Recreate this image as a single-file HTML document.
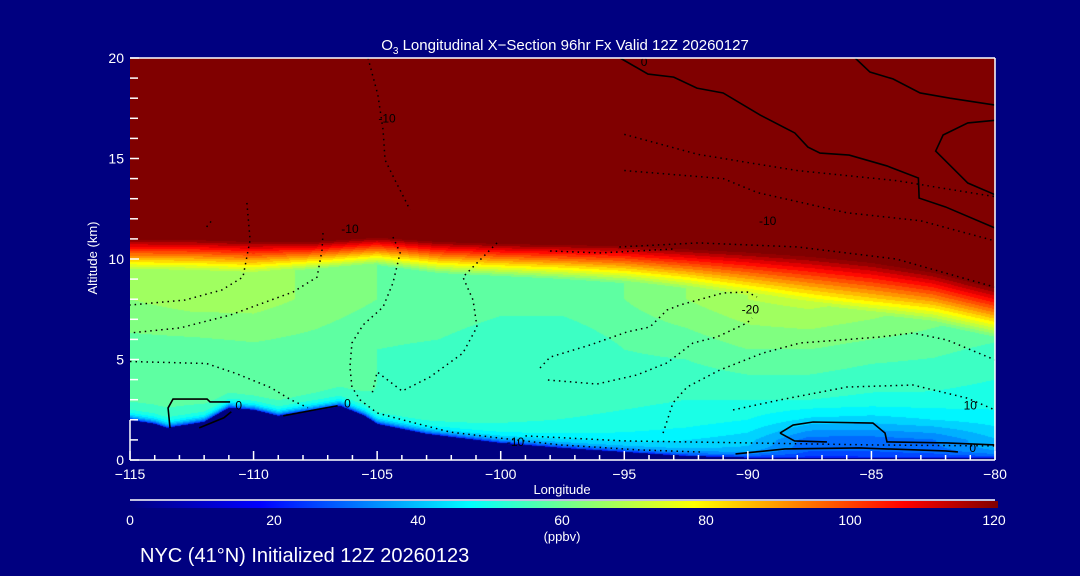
<!DOCTYPE html>
<html><head><meta charset="utf-8"><style>
html,body{margin:0;padding:0;background:#000080;}
#wrap{position:relative;width:1080px;height:576px;overflow:hidden;background:#000080;font-family:"Liberation Sans",sans-serif;color:#fff;}
canvas{position:absolute;left:130px;top:58px;}
svg{position:absolute;left:0;top:0;}
</style></head><body>
<div id="wrap">
<canvas id="field" width="865" height="402"></canvas>
<svg id="ov" width="1080" height="576"></svg>
</div>
<script>
// ---- data ----
const colLons = [-115,-112.5,-110,-107.5,-105,-102.5,-100,-97.5,-95,-92.5,-90,-87.5,-85,-82.5,-80];
const val1km = [55,55,55,55,55,52,50,48,47,45,42,30,30,32,40];
const val2km = [56,56,57,56,55,54,53,52,51,50,48,43,42,44,46];
const val3km = [57,57,58,57,56,55,54,54,53,52,52,52,51,51,50];
const val55km = [58,58,59,58,56,55,52,52,56,57,60,60,58,57,55];
const val8km = [64,66,66,63,60,60,58,58,60,64,68,70,68,64,62];
const tropTop = [11.0,11.0,10.9,10.9,11.1,10.9,10.8,10.75,10.7,10.55,10.4,10.2,9.9,9.4,8.6];
const tropWidth = [1.6,1.6,1.6,1.4,1.4,1.6,1.7,1.8,1.9,2.0,2.2,2.4,2.6,2.6,2.6];
const terrLons = [-115,-114,-113.5,-112,-111,-110,-109,-108,-106.5,-105.5,-105,-103,-100,-97.5,-95,-92.5,-90,-85,-80];
const terrAlt = [2.0,1.8,1.6,1.9,2.6,2.5,2.2,2.4,2.7,2.2,1.8,1.3,0.85,0.6,0.4,0.2,0.12,0.1,0.1];
const cbStops = [0,18,47,62,78,107,120];
const cbColors = [[0,0,128],[0,0,255],[0,255,255],[128,255,128],[255,255,0],[255,0,0],[128,0,0]];
const xTicks = [-115,-110,-105,-100,-95,-90,-85,-80];
const yTicks = [0,5,10,15,20];
const cbTicks = [0,20,40,60,80,100,120];
// contour lines [lon,alt]
const solidLines = [
 [[-95.17,20],[-94.04,19.2],[-93.0,19.05],[-92.06,18.5],[-91.0,18.26],[-89.5,17.16],[-88.1,16.27],[-87.57,15.57],[-87.08,15.27],[-85.9,15.17],[-84.37,14.63],[-83.1,14.03],[-83.07,13.03],[-82.0,12.59],[-80,11.54]],
 [[-85.66,20],[-85.06,19.3],[-84.13,18.96],[-83.03,18.26],[-81.82,18.0],[-80,17.66]],
 [[-80,16.9],[-81.1,16.77],[-82.1,16.17],[-82.4,15.37],[-81.1,13.78],[-80,13.2]],
 [[-113.38,1.59],[-113.46,2.59],[-113.26,3.03],[-111.88,3.03],[-111.76,2.89],[-110.95,2.89]],
 [[-112.2,1.6],[-111.2,2.1],[-110.9,2.4]],
 [[-108.8,2.2],[-107.5,2.5],[-106.6,2.7]],
 [[-88.7,1.34],[-88.17,1.74],[-87.36,1.89],[-84.94,1.84],[-84.45,1.34],[-84.37,0.9],[-81.94,0.85],[-80,0.75]],
 [[-88.7,1.34],[-88.11,0.95],[-86.8,0.9]],
 [[-90.5,0.3],[-88.5,0.55],[-85.5,0.6],[-82,0.45],[-81.5,0.4]]
];
const dottedLines = [
 [[-107.19,11.29],[-107.23,10.45],[-107.43,9.1],[-108.4,8.36],[-109.62,7.81],[-110.95,7.21],[-112.98,6.57],[-115,6.32]],
 [[-110.27,12.79],[-110.14,10.95],[-110.43,9.1],[-111.28,8.46],[-112.77,7.96],[-115,7.71]],
 [[-104.36,11.09],[-104.07,10.3],[-104.36,8.81],[-104.76,7.61],[-105.57,6.72],[-106.02,5.82],[-106.1,4.63],[-106.02,3.63],[-105.69,2.99],[-105.0,2.34],[-103.95,1.99],[-102.05,1.39],[-100.03,1.09],[-97.6,0.75],[-94.36,0.5],[-91.94,0.4]],
 [[-100.15,10.8],[-101.53,9.1],[-101.12,7.96],[-100.96,6.62],[-101.53,5.32],[-102.86,4.13],[-103.99,3.43],[-105.0,4.38],[-105.2,3.33]],
 [[-105.37,20],[-104.97,18.16],[-104.76,16.42],[-104.68,14.93],[-104.28,13.93],[-103.87,12.94],[-103.67,12.44]],
 [[-98.41,4.58],[-98.0,5.12],[-96.39,5.72],[-94.89,6.37],[-93.96,6.62],[-93.27,7.46],[-92.75,7.71],[-91.0,8.31],[-90.03,8.36],[-89.63,8.11]],
 [[-98.09,3.98],[-96.1,3.78],[-94.49,4.23],[-93.27,4.83],[-92.22,5.82],[-91.25,6.12],[-90.03,6.82],[-89.83,7.06]],
 [[-93.43,1.34],[-93.03,2.84],[-92.46,3.63],[-91.13,4.48],[-89.39,5.32],[-87.89,5.82],[-84.65,6.12],[-83.32,6.32],[-81.94,5.97],[-80,4.98]],
 [[-90.6,2.49],[-88.7,2.99],[-85.99,3.63],[-83.32,3.73],[-81.13,3.08],[-80,2.49]],
 [[-115,4.9],[-111.9,4.8],[-110.7,4.3],[-109.3,3.6],[-108.5,3.0],[-107.8,2.6]],
 [[-99,1.2],[-95,0.95],[-90,0.85],[-85,0.75],[-80,0.7]],
 [[-95,16.2],[-92,15.2],[-88,14.4],[-84,13.9],[-80,13.1]],
 [[-95,14.4],[-91,14.0],[-89.6,13.3],[-86,12.3],[-83,11.9],[-80,10.9]],
 [[-95.2,10.6],[-92,10.8],[-88,10.6],[-84,10.0],[-80,8.6]],
 [[-98,10.4],[-96,10.3],[-93,10.5]],
 [[-111.9,11.6],[-111.7,11.9]]
];
const contourLabels = [["0",-94.2,19.8],["-10",-104.6,17],["-10",-106.1,11.5],["-10",-89.2,11.9],["-20",-89.9,7.5],["10",-81,2.7],["0",-80.9,0.6],["0",-110.6,2.7],["0",-106.2,2.8],["-10",-99.4,0.9]];

// ---- scales ----
const X0=130,X1=995,Y0=460,Y1=58;
const xs = lon => X0 + (lon+115)/35*(X1-X0);
const ys = alt => Y0 - alt/20*(Y0-Y1);
function interp(xa, ya, x){
  if(x<=xa[0]) return ya[0];
  for(let i=1;i<xa.length;i++){ if(x<=xa[i]){const t=(x-xa[i-1])/(xa[i]-xa[i-1]);return ya[i-1]+t*(ya[i]-ya[i-1]);} }
  return ya[ya.length-1];
}
function cmap(v){
  v=Math.max(0,Math.min(120,v));
  for(let i=1;i<cbStops.length;i++){ if(v<=cbStops[i]){const t=(v-cbStops[i-1])/(cbStops[i]-cbStops[i-1]);const a=cbColors[i-1],b=cbColors[i];return [a[0]+t*(b[0]-a[0]),a[1]+t*(b[1]-a[1]),a[2]+t*(b[2]-a[2])];} }
  return cbColors[cbColors.length-1];
}
// ---- field ----
const cv=document.getElementById('field'),ctx=cv.getContext('2d');
const W=cv.width,H=cv.height,img=ctx.createImageData(W,H);
const knots=[1,2,3,5.5,8];
for(let px=0;px<W;px++){
  const lon=-115+(px+0.5)/W*35;
  const kv=[interp(colLons,val1km,lon),interp(colLons,val2km,lon),interp(colLons,val3km,lon),interp(colLons,val55km,lon),interp(colLons,val8km,lon)];
  const tt=interp(colLons,tropTop,lon), tw=interp(colLons,tropWidth,lon);
  const surf=interp(terrLons,terrAlt,lon);
  for(let py=0;py<H;py++){
    const z=(Y0-(Y1+py+0.5))/(Y0-Y1)*20;
    let c;
    if(z<surf){c=[0,0,128];}
    else{
      let v=interp(knots,kv,z);
      const z0=tt-tw;
      if(z>z0){const t=Math.min(1.2,(z-z0)/tw);v=v+(122-v)*t;}
      const d=z-surf;
      v=22+(v-22)*(1-Math.exp(-d/0.25));
      v=Math.floor(v/4)*4+2;
      c=cmap(v);
    }
    const k=(py*W+px)*4;img.data[k]=c[0];img.data[k+1]=c[1];img.data[k+2]=c[2];img.data[k+3]=255;
  }
}
ctx.putImageData(img,0,0);

// ---- overlay ----
const NS='http://www.w3.org/2000/svg',svg=document.getElementById('ov');
function el(tag,attrs,parent){const e=document.createElementNS(NS,tag);for(const k in attrs)e.setAttribute(k,attrs[k]);(parent||svg).appendChild(e);return e;}
function txt(s,x,y,size,anchor,parent){const t=el('text',{x:x,y:y,'font-size':size,'text-anchor':anchor||'middle',fill:'#fff','font-family':'Liberation Sans, sans-serif'},parent);t.textContent=s;return t;}

const gC=el('g',{});


solidLines.forEach(l=>{const p=el('polyline',{points:l.map(q=>xs(q[0])+','+ys(q[1])).join(' '),fill:'none',stroke:'#000','stroke-width':1.6},gC);
 
 });
dottedLines.forEach(l=>{const p=el('polyline',{points:l.map(q=>xs(q[0])+','+ys(q[1])).join(' '),fill:'none',stroke:'#000','stroke-width':1.5,'stroke-dasharray':'1.5 4'},gC);
 
 });
contourLabels.forEach(l=>{const t=el('text',{x:xs(l[1]),y:ys(l[2])+4,'font-size':12,'text-anchor':'middle',fill:'#000','font-family':'Liberation Sans, sans-serif'},gC);t.textContent=l[0];
 
 });

// axes
const gA=el('g',{stroke:'#fff','stroke-width':1.5});


el('line',{x1:X0,y1:Y1,x2:X1,y2:Y1},gA);el('line',{x1:X0,y1:Y0,x2:X1,y2:Y0},gA);
el('line',{x1:X1,y1:Y1,x2:X1,y2:Y0},gA);el('line',{x1:X0,y1:Y0,x2:X0,y2:Y0-40},gA);
for(let lon=-115;lon<=-80;lon++){const maj=(lon%5===0);el('line',{x1:xs(lon),y1:Y0,x2:xs(lon),y2:Y0-(maj?9:5)},gA);}
for(let a=0;a<=20;a++){const maj=(a%5===0);el('line',{x1:X0,y1:ys(a),x2:X0+(maj?9:8),y2:ys(a)},gA);}
xTicks.forEach(v=>{const t=txt((v<0?'\u2212':'')+Math.abs(v),xs(v),479,14);
 
 });
yTicks.forEach(v=>{const t=txt(String(v),124,ys(v)+5,14,'end');
 
 });
const xt=txt('Longitude',562,494,13);


const yt=txt('Altitude (km)',0,0,13);yt.setAttribute('transform','translate(97,258) rotate(-90)');


const tt=el('text',{x:565,y:50,'font-size':15,'text-anchor':'middle',fill:'#fff','font-family':'Liberation Sans, sans-serif'});
tt.innerHTML='O<tspan font-size="10" dy="4">3</tspan><tspan dy="-4"> Longitudinal X\u2212Section 96hr  Fx Valid 12Z 20260127</tspan>';



// colorbar
const defs=el('defs',{});const lg=el('linearGradient',{id:'cbg',x1:0,x2:1,y1:0,y2:0},defs);
cbStops.forEach((s,i)=>{el('stop',{offset:(s/120*100)+'%','stop-color':'rgb('+cbColors[i].join(',')+')'},lg);});
const cb=el('rect',{x:130,y:501,width:868,height:7,fill:'url(#cbg)'});


el('line',{x1:130,y1:500,x2:995,y2:500,stroke:'#fff','stroke-width':1.5});
cbTicks.forEach(v=>{const t=txt(String(v),130+v/120*864,525,14);
 
 });
const un=txt('(ppbv)',562,541,13);


const ft=txt('NYC (41\u00B0N) Initialized 12Z 20260123',140,562,20,'start');


</script>
</body></html>
